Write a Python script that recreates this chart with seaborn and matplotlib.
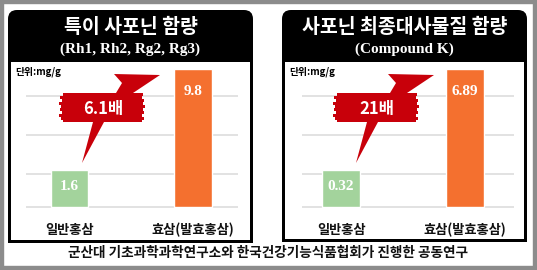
import matplotlib
matplotlib.use("Agg")
import matplotlib.pyplot as plt
import seaborn as sns
import pandas as pd
from matplotlib.patches import FancyBboxPatch, Rectangle, Polygon

sns.set_theme(style="white")
plt.rcParams['font.family'] = ['Noto Sans CJK KR', 'DejaVu Sans']

# ---- data ----
categories = ["일반홍삼", "효삼(발효홍삼)"]
panel_titles = ["특이 사포닌 함량", "사포닌 최종대사물질 함량"]
panel_subtitles = ["(Rh1, Rh2, Rg2, Rg3)", "(Compound K)"]
values_panel1 = ["1.6", "9.8"]          # printed values (mg/g)
values_panel2 = ["0.32", "6.89"]
bar_heights_drawn = [1.0, 3.72]          # bars are drawn non-proportionally in the original
ratio_labels = ["6.1배", "21배"]
unit_label = "단위:mg/g"
footer = "군산대 기초과학과학연구소와 한국건강기능식품협회가 진행한 공동연구"

GREEN = "#A3D39C"
ORANGE = "#F4702F"
RED = "#C8000A"
W, H = 537, 270

fig = plt.figure(figsize=(W / 100, H / 100), dpi=100)
fig.patch.set_facecolor("white")

def px_axes(x0, y0, x1, y1, z):
    ax = fig.add_axes([x0 / W, 1 - y1 / H, (x1 - x0) / W, (y1 - y0) / H])
    ax.set_zorder(z)
    return ax

# background (pixel coordinates)
bg = px_axes(0, 0, W, H, 0)
bg.set_xlim(0, W); bg.set_ylim(H, 0); bg.axis("off")
for r in [Rectangle((0, 0), W, 3), Rectangle((0, 0), 3, H),
          Rectangle((533, 0), 4, H), Rectangle((0, 266), W, 4)]:
    r.set_color("#8C8C8C"); bg.add_patch(r)

panels = [(8, 253, 243), (282, 527, 242)]
for i, (pl, pr, pb) in enumerate(panels):
    bg.add_patch(FancyBboxPatch((pl, 10), pr - pl, pb - 10,
                                boxstyle="round,pad=0,rounding_size=9",
                                fc="black", ec="none"))
    bg.add_patch(Rectangle((pl, 120), pr - pl, pb - 120, fc="black", ec="none"))
    bg.add_patch(Rectangle((pl + 3, 62), pr - pl - 6, pb - 62 - 3, fc="white", ec="none"))
    cx = (pl + pr) / 2
    bg.text(cx, 27, panel_titles[i], color="white", fontsize=14, fontweight="bold",
            ha="center", va="center")
    bg.text(cx, 49, panel_subtitles[i], color="white", fontsize=11, fontweight="bold",
            family="Liberation Serif", ha="center", va="center")
    bg.text(pl + 7, 72, unit_label, color="black", fontsize=7, fontweight="bold",
            ha="left", va="center")

bg.text(268, 253, footer, color="#111111", fontsize=9.8, fontweight="bold",
        ha="center", va="center")

# ---- bar axes ----
axes_px = [(26, 238, -0.352, 1.364), (302, 514, -0.315, 1.395)]
values_all = [values_panel1, values_panel2]
for i, (x0, x1, xl, xr) in enumerate(axes_px):
    ax = px_axes(x0, 66, x1, 212, 1)
    df = pd.DataFrame({"cat": categories, "h": bar_heights_drawn})
    sns.barplot(data=df, x="cat", y="h", hue="cat", palette=[GREEN, ORANGE],
                saturation=1, width=0.3, legend=False, ax=ax, zorder=2)
    ax.set_xlim(xl, xr)
    ax.set_ylim(-(212 - 207) / 37, (207 - 66) / 37)
    ax.patch.set_alpha(0)
    for s in ax.spines.values():
        s.set_visible(False)
    ax.set_yticks([0, 0.9, 1.95, 3.0])
    ax.set_yticklabels([])
    ax.grid(axis="y", color="#DDDDDD", linewidth=1.2, zorder=0)
    ax.set_axisbelow(True)
    ax.set_xlabel(""); ax.set_ylabel("")
    ax.tick_params(axis="x", length=0, pad=8, labelsize=9.5)
    ax.tick_params(axis="y", length=0)
    for lab in ax.get_xticklabels():
        lab.set_fontweight("bold"); lab.set_color("#111111")
    for j, v in enumerate(values_all[i]):
        ax.text(j, bar_heights_drawn[j] - (0.6 if j == 1 else 0.45), v,
                color="white", fontsize=11, fontweight="bold", family="Liberation Serif",
                ha="center", va="center", zorder=3)

# ---- overlay: red zig-zag arrows ----
ov = px_axes(0, 0, W, H, 3)
ov.set_xlim(0, W); ov.set_ylim(H, 0); ov.axis("off")
arrow_shape = [(74, 163), (96, 122), (132, 122), (132, 93), (125, 93), (152, 75),
               (106, 74), (114, 83), (108, 93), (58, 93), (58, 122), (85, 122)]
streaks = [(93, 55, 135), (96, 52, 134), (99, 54, 136), (102, 51, 135), (105, 53, 137),
           (108, 52, 135), (111, 54, 136), (114, 51, 134), (117, 53, 136), (119.5, 55, 134)]
for i, (pl, pr, pb) in enumerate(panels):
    poly = [(pl + x, y) for x, y in arrow_shape]
    ov.add_patch(Polygon(poly, closed=True, fc=RED, ec="none"))
    for (y, xa, xb) in streaks:
        ov.add_patch(Rectangle((pl + xa, y), xb - xa, 2.5, fc=RED, ec="none"))
    ov.text(pl + 95, 109, ratio_labels[i], color="white", fontsize=12, fontweight="bold",
            ha="center", va="center")

fig.savefig("out.png", dpi=100, facecolor="white")
